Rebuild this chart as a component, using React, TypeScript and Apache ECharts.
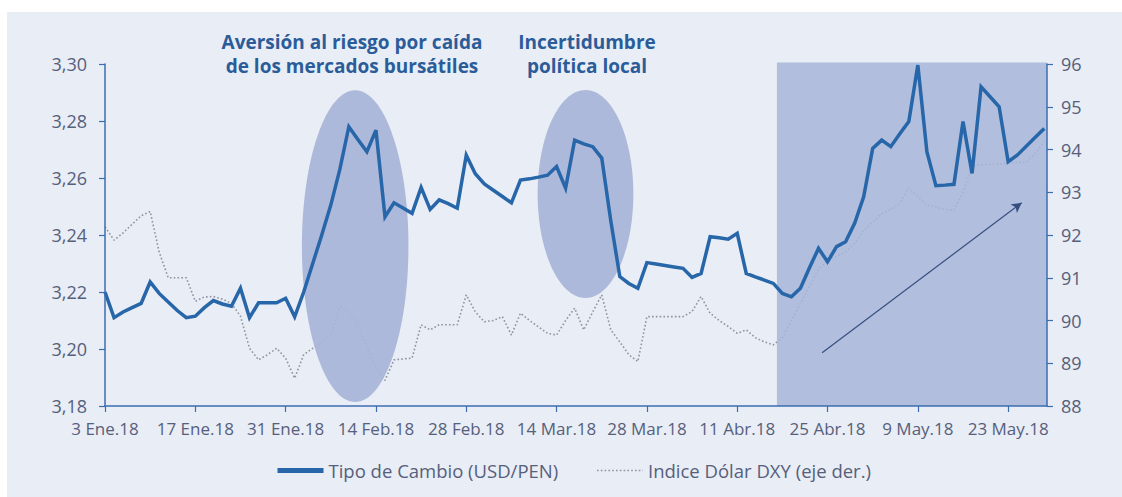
import { useEffect, useRef } from "react";
import * as echarts from "echarts";

// ---- Data ----
const MONTHS = ["Ene", "Feb", "Mar", "Abr", "May", "Jun", "Jul", "Ago", "Set", "Oct", "Nov", "Dic"];
const N_DAYS = 105; // business days from 3 Ene.18 to 29 May.18

function buildDates(): string[] {
  const out: string[] = [];
  const d = new Date(Date.UTC(2018, 0, 3));
  while (out.length < N_DAYS) {
    const wd = d.getUTCDay();
    if (wd !== 0 && wd !== 6) {
      out.push(`${d.getUTCDate()} ${MONTHS[d.getUTCMonth()]}.${String(d.getUTCFullYear()).slice(2)}`);
    }
    d.setUTCDate(d.getUTCDate() + 1);
  }
  return out;
}
const dates = buildDates();
const tickIdx = [0, 10, 20, 30, 40, 50, 60, 70, 80, 90, 100];

const usdPen = [
  3.220, 3.211, 3.213, 3.2145, 3.216, 3.2235, 3.2195, 3.2165, 3.2135, 3.211,
  3.2115, 3.2145, 3.217, 3.2158, 3.215, 3.2213, 3.211, 3.2162, 3.2162, 3.2162,
  3.2178, 3.2113, 3.220, 3.230, 3.240, 3.2505, 3.263, 3.278, 3.2735, 3.2692,
  3.2768, 3.2464, 3.2513, 3.2495, 3.2476, 3.2567, 3.249, 3.2523, 3.251, 3.2494,
  3.268, 3.2615, 3.2579, 3.2557, 3.2535, 3.2513, 3.2593, 3.2597, 3.2603, 3.261,
  3.264, 3.2564, 3.2733, 3.272, 3.271, 3.267, 3.245, 3.2254, 3.223, 3.2213,
  3.2303, 3.2298, 3.2293, 3.2288, 3.2283, 3.2251, 3.2265, 3.2394, 3.239, 3.2385,
  3.2406, 3.2265, 3.2253, 3.2242, 3.223, 3.2195, 3.2183, 3.2213, 3.2285, 3.2353,
  3.2306, 3.2359, 3.2376, 3.2441, 3.2534, 3.2704, 3.2733, 3.271, 3.2755, 3.2798,
  3.2996, 3.2692, 3.2573, 3.2575, 3.2578, 3.2798, 3.2616, 3.292, 3.2885, 3.285,
  3.2657, 3.268, 3.2711, 3.2743, 3.2774,
];

const dxy = [
  92.19, 91.88, 92.05, 92.25, 92.45, 92.55, 91.6, 91.0, 91.0, 91.0,
  90.45, 90.55, 90.56, 90.5, 90.4, 90.1, 89.35, 89.08, 89.2, 89.35,
  89.12, 88.65, 89.2, 89.35, 89.5, 89.66, 90.32, 90.2, 89.9, 89.4,
  88.9, 88.6, 89.08, 89.1, 89.12, 89.9, 89.78, 89.9, 89.9, 89.9,
  90.6, 90.2, 89.97, 90.0, 90.09, 89.66, 90.17, 90.0, 89.85, 89.7,
  89.66, 90.0, 90.29, 89.78, 90.2, 90.6, 89.78, 89.5, 89.2, 89.04,
  90.09, 90.09, 90.09, 90.09, 90.09, 90.21, 90.56, 90.17, 90.0, 89.86,
  89.7, 89.78, 89.6, 89.5, 89.43, 89.6, 90.0, 90.4, 90.8, 91.2,
  91.4, 91.5, 91.6, 91.8, 92.1, 92.3, 92.5, 92.6, 92.74, 93.1,
  92.9, 92.7, 92.65, 92.6, 92.58, 93.0, 93.6, 93.65, 93.65, 93.66,
  93.68, 93.7, 93.7, 93.9, 94.2,
];

const leftTicks = { min: 3.18, max: 3.3, interval: 0.02 };
const rightTicks = { min: 88, max: 96, interval: 1 };

// annotation regions in data units (x = business-day index, y = USD/PEN)
const ellipses = [
  { cx: 27.7, cy: 3.2361, rx: 5.9, ry: 0.0547 },
  { cx: 53.2, cy: 3.2544, rx: 5.3, ry: 0.0365 },
];
const shadeRange = { from: 74.4, to: 104.3 };
const trendArrow = { from: [79.4, 3.1987], to: [101.5, 3.2513] };

const AXIS_BLUE = "#3b6db0";
const LABEL_COLOR = "#56607c";
const FONT = "'Open Sans', 'Noto Sans', sans-serif";

export default function App() {
  const ref = useRef<HTMLDivElement>(null);

  useEffect(() => {
    if (!ref.current) return;
    const chart = echarts.init(ref.current, null, { renderer: "svg" });

    const shadeItems = [
      ...ellipses.map((e, i) => ({ value: [e.cx, e.cy, i] })),
      { value: [shadeRange.from, leftTicks.max, -1] },
    ];

    const option: any = {
      animation: false,
      textStyle: { fontFamily: FONT },
      grid: { left: 105, right: 75, top: 64, bottom: 91, containLabel: false },
      legend: {
        left: 270,
        top: 456,
        itemWidth: 46,
        itemHeight: 14,
        itemGap: 38,
        textStyle: { fontSize: 18.5, color: LABEL_COLOR, fontFamily: FONT },
        data: [
          { name: "Tipo de Cambio (USD/PEN)", itemStyle: { opacity: 0 }, lineStyle: { width: 5 } },
          { name: "Indice Dólar DXY (eje der.)", itemStyle: { opacity: 0 }, lineStyle: { width: 1.6 } },
        ],
      },
      xAxis: {
        type: "value",
        min: 0,
        max: shadeRange.to,
        z: 6,
        axisLine: { show: true, lineStyle: { color: AXIS_BLUE, width: 1.5 } },
        axisTick: { show: true, length: 6, customValues: tickIdx, lineStyle: { color: AXIS_BLUE, width: 1.2 } },
        axisLabel: {
          customValues: tickIdx,
          margin: 14,
          color: LABEL_COLOR,
          fontSize: 17,
          fontFamily: FONT,
          formatter: (v: number) => dates[Math.round(v)] ?? "",
        },
        splitLine: { show: false },
      },
      yAxis: [
        {
          type: "value",
          position: "left",
          ...leftTicks,
          z: 6,
          axisLine: { show: true, lineStyle: { color: AXIS_BLUE, width: 1.5 } },
          axisTick: { show: true, length: 6, lineStyle: { color: AXIS_BLUE, width: 1.2 } },
          axisLabel: {
            margin: 18,
            color: LABEL_COLOR,
            fontSize: 18,
            fontFamily: FONT,
            formatter: (v: number) => v.toFixed(2).replace(".", ","),
          },
          splitLine: { show: false },
        },
        {
          type: "value",
          position: "right",
          ...rightTicks,
          z: 6,
          axisLine: { show: true, lineStyle: { color: AXIS_BLUE, width: 1.5 } },
          axisTick: { show: true, length: 6, lineStyle: { color: AXIS_BLUE, width: 1.2 } },
          axisLabel: { margin: 14, color: LABEL_COLOR, fontSize: 18, fontFamily: FONT },
          splitLine: { show: false },
        },
      ],
      series: [
        {
          name: "Tipo de Cambio (USD/PEN)",
          type: "line",
          yAxisIndex: 0,
          z: 4,
          symbol: "none",
          showSymbol: false,
          color: "#2766a9",
          lineStyle: { color: "#2766a9", width: 3.5, join: "miter" },
          data: usdPen.map((v, i) => [i, v]),
          markLine: {
            silent: true,
            symbol: ["none", "arrow"],
            symbolSize: [8, 10],
            label: { show: false },
            lineStyle: { color: "#354f80", width: 1.2, type: "solid" },
            data: [[{ coord: trendArrow.from }, { coord: trendArrow.to }]],
          },
        },
        {
          name: "Indice Dólar DXY (eje der.)",
          type: "line",
          yAxisIndex: 1,
          z: 1,
          symbol: "none",
          showSymbol: false,
          color: "#8d93a3",
          lineStyle: { color: "#8d93a3", width: 1.6, type: [1.6, 2.2] },
          data: dxy.map((v, i) => [i, v]),
        },
        {
          name: "shade",
          type: "custom",
          xAxisIndex: 0,
          yAxisIndex: 0,
          z: 2,
          silent: true,
          clip: false,
          data: shadeItems,
          renderItem: (params: any, api: any) => {
            const k = api.value(2);
            if (k >= 0) {
              const e = ellipses[k];
              const c = api.coord([e.cx, e.cy]);
              const s = api.size([e.rx, e.ry]);
              return {
                type: "ellipse",
                shape: { cx: c[0], cy: c[1], rx: s[0], ry: s[1] },
                style: { fill: "rgba(168,181,215,0.93)" },
              };
            }
            const tl = api.coord([shadeRange.from, leftTicks.max]);
            const br = api.coord([shadeRange.to, leftTicks.min]);
            return {
              type: "rect",
              shape: { x: tl[0], y: tl[1] - 1.5, width: br[0] - tl[0], height: br[1] - tl[1] + 1.5 },
              style: { fill: "rgba(168,182,216,0.86)" },
            };
          },
        },
      ],
      graphic: [
        {
          type: "text",
          z: 7,
          x: 352,
          y: 30,
          style: {
            text: "Aversión al riesgo por caída\nde los mercados bursátiles",
            textAlign: "center",
            fill: "#2b5c9a",
            font: `bold 19px ${FONT}`,
            lineHeight: 24,
          },
        },
        {
          type: "text",
          z: 7,
          x: 587,
          y: 30,
          style: {
            text: "Incertidumbre\npolítica local",
            textAlign: "center",
            fill: "#2b5c9a",
            font: `bold 19px ${FONT}`,
            lineHeight: 24,
          },
        },
      ],
    };
    chart.setOption(option);

    return () => chart.dispose();
  }, []);

  return (
    <div style={{ position: "fixed", left: 0, top: 0, width: 1122, height: 497, background: "#ffffff" }}>
      <div style={{ position: "absolute", left: 7, top: 12, right: 0, bottom: 0, background: "#e9edf5" }} />
      <div ref={ref} style={{ position: "absolute", left: 0, top: 0, width: 1122, height: 497 }} />
    </div>
  );
}
